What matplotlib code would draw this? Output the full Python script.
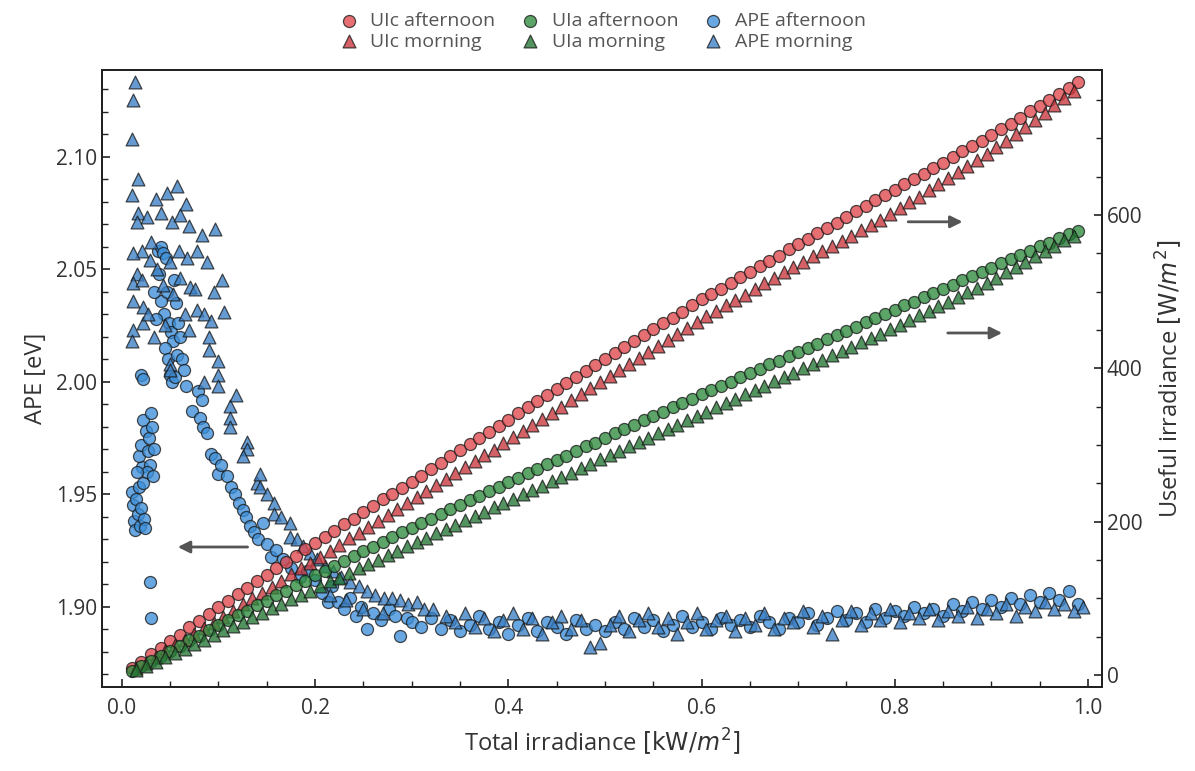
import numpy as np
import matplotlib.pyplot as plt

plt.rcParams['font.family'] = ['Open Sans', 'DejaVu Sans']

# total irradiance [kW/m2] for the useful irradiance curves
x_aft = [0.01, 0.02, 0.03, 0.04, 0.05, 0.06, 0.07, 0.08, 0.09, 0.10,
         0.11, 0.12, 0.13, 0.14, 0.15, 0.16, 0.17, 0.18, 0.19, 0.20,
         0.21, 0.22, 0.23, 0.24, 0.25, 0.26, 0.27, 0.28, 0.29, 0.30,
         0.31, 0.32, 0.33, 0.34, 0.35, 0.36, 0.37, 0.38, 0.39, 0.40,
         0.41, 0.42, 0.43, 0.44, 0.45, 0.46, 0.47, 0.48, 0.49, 0.50,
         0.51, 0.52, 0.53, 0.54, 0.55, 0.56, 0.57, 0.58, 0.59, 0.60,
         0.61, 0.62, 0.63, 0.64, 0.65, 0.66, 0.67, 0.68, 0.69, 0.70,
         0.71, 0.72, 0.73, 0.74, 0.75, 0.76, 0.77, 0.78, 0.79, 0.80,
         0.81, 0.82, 0.83, 0.84, 0.85, 0.86, 0.87, 0.88, 0.89, 0.90,
         0.91, 0.92, 0.93, 0.94, 0.95, 0.96, 0.97, 0.98, 0.99]
x_mor = [0.015, 0.025, 0.035, 0.045, 0.055, 0.065, 0.075, 0.085, 0.095,
         0.105, 0.115, 0.125, 0.135, 0.145, 0.155, 0.165, 0.175, 0.185, 0.195,
         0.205, 0.215, 0.225, 0.235, 0.245, 0.255, 0.265, 0.275, 0.285, 0.295,
         0.305, 0.315, 0.325, 0.335, 0.345, 0.355, 0.365, 0.375, 0.385, 0.395,
         0.405, 0.415, 0.425, 0.435, 0.445, 0.455, 0.465, 0.475, 0.485, 0.495,
         0.505, 0.515, 0.525, 0.535, 0.545, 0.555, 0.565, 0.575, 0.585, 0.595,
         0.605, 0.615, 0.625, 0.635, 0.645, 0.655, 0.665, 0.675, 0.685, 0.695,
         0.705, 0.715, 0.725, 0.735, 0.745, 0.755, 0.765, 0.775, 0.785, 0.795,
         0.805, 0.815, 0.825, 0.835, 0.845, 0.855, 0.865, 0.875, 0.885, 0.895,
         0.905, 0.915, 0.925, 0.935, 0.945, 0.955, 0.965, 0.975, 0.985]

# UIc [W/m2]
uic_aft = [9, 17, 27, 35, 44, 52, 62, 70, 79, 88,
           96, 105, 113, 122, 130, 139, 147, 155, 164, 172,
           180, 188, 197, 204, 212, 220, 229, 236, 244, 252,
           260, 269, 276, 285, 293, 301, 309, 317, 325, 333,
           341, 349, 357, 365, 373, 381, 389, 396, 404, 412,
           420, 428, 435, 443, 451, 459, 466, 474, 482, 490,
           497, 504, 511, 519, 526, 533, 540, 547, 555, 562,
           569, 576, 583, 590, 597, 605, 612, 619, 626, 633,
           640, 647, 654, 661, 668, 676, 683, 690, 697, 704,
           712, 719, 727, 735, 742, 750, 758, 765, 773]
uic_mor = [9, 16, 24, 31, 39, 46, 54, 61, 68,
           76, 84, 92, 100, 107, 115, 123, 131, 139, 146,
           154, 162, 170, 178, 185, 193, 201, 209, 217, 224,
           232, 240, 248, 256, 263, 271, 279, 287, 294, 302,
           310, 318, 326, 334, 342, 350, 358, 366, 374, 382,
           390, 398, 405, 413, 421, 429, 437, 445, 452, 460,
           468, 475, 482, 489, 496, 504, 511, 518, 525, 532,
           539, 546, 553, 559, 566, 573, 580, 587, 594, 601,
           609, 617, 624, 632, 640, 648, 656, 664, 672, 680,
           688, 697, 706, 715, 724, 733, 743, 752, 762]

# UIa [W/m2]
uia_aft = [5, 12, 18, 25, 31, 38, 45, 51, 58, 65,
           71, 78, 84, 91, 97, 104, 110, 117, 123, 130,
           136, 142, 149, 155, 161, 167, 173, 180, 186, 192,
           198, 204, 210, 216, 222, 228, 234, 240, 245, 251,
           257, 263, 269, 275, 280, 286, 292, 298, 303, 309,
           315, 321, 326, 332, 338, 343, 349, 355, 360, 366,
           371, 377, 382, 388, 394, 399, 405, 410, 416, 421,
           427, 432, 438, 443, 449, 454, 460, 465, 471, 476,
           482, 487, 493, 498, 504, 509, 515, 520, 526, 531,
           537, 542, 548, 553, 559, 564, 570, 575, 579]
uia_mor = [6, 11, 17, 23, 28, 34, 40, 46, 52,
           58, 64, 69, 75, 81, 87, 93, 99, 104, 110,
           116, 122, 127, 133, 139, 145, 150, 156, 162, 168,
           173, 179, 185, 190, 196, 202, 207, 213, 219, 224,
           230, 236, 241, 247, 253, 258, 264, 270, 275, 281,
           287, 292, 298, 304, 309, 315, 321, 326, 332, 338,
           343, 349, 355, 360, 366, 372, 377, 383, 389, 394,
           400, 406, 411, 417, 423, 428, 434, 440, 445, 451,
           457, 463, 469, 475, 481, 487, 493, 499, 505, 511,
           518, 525, 532, 539, 546, 553, 560, 567, 573]

# APE afternoon [eV]
ape_aft_x = [0.010, 0.012, 0.013, 0.014, 0.015, 0.017, 0.018, 0.019, 0.020, 0.022,
             0.023, 0.024, 0.021, 0.018, 0.020, 0.022, 0.025, 0.027, 0.028, 0.030,
             0.031, 0.029, 0.026, 0.032, 0.033, 0.029, 0.030, 0.016, 0.020, 0.022,
             0.037, 0.040, 0.043, 0.046, 0.038, 0.041, 0.044, 0.047, 0.049, 0.051,
             0.053, 0.045, 0.048, 0.050, 0.052, 0.055, 0.057, 0.060, 0.058, 0.062,
             0.064, 0.066, 0.035, 0.033, 0.054, 0.056,
             0.073, 0.081, 0.084, 0.088, 0.079, 0.083, 0.092, 0.096, 0.099, 0.103,
             0.109, 0.113, 0.117, 0.121, 0.125, 0.129, 0.133, 0.137, 0.141, 0.146,
             0.150, 0.154, 0.160, 0.167, 0.175, 0.184, 0.192, 0.200, 0.207, 0.213,
             0.218, 0.224, 0.230, 0.236, 0.242, 0.248, 0.254, 0.260, 0.268, 0.276,
             0.288, 0.283, 0.295,
             0.30, 0.31, 0.32, 0.33, 0.34, 0.35, 0.36, 0.37, 0.38, 0.39,
             0.40, 0.41, 0.42, 0.43, 0.44, 0.45, 0.46, 0.47, 0.48, 0.49,
             0.50, 0.51, 0.52, 0.53, 0.54, 0.55, 0.56, 0.57, 0.58, 0.59,
             0.60, 0.61, 0.62, 0.63, 0.64, 0.65, 0.66, 0.67, 0.68, 0.69,
             0.70, 0.71, 0.72, 0.73, 0.74, 0.75, 0.76, 0.77, 0.78, 0.79,
             0.80, 0.81, 0.82, 0.83, 0.84, 0.85, 0.86, 0.87, 0.88, 0.89,
             0.90, 0.91, 0.92, 0.93, 0.94, 0.95, 0.96, 0.97, 0.98, 0.99]
ape_aft = [1.951, 1.945, 1.938, 1.934, 1.948, 1.941, 1.953, 1.936, 1.944, 1.955,
           1.939, 1.935, 1.962, 1.967, 1.972, 1.983, 1.978, 1.969, 1.975, 1.986,
           1.980, 1.963, 1.960, 1.958, 1.970, 1.911, 1.895, 1.960, 2.003, 2.001,
           2.058, 2.060, 2.057, 2.055, 2.048, 2.036, 2.030, 2.040, 2.026, 2.022,
           2.018, 2.015, 2.010, 2.003, 2.000, 2.002, 2.012, 2.020, 2.026, 2.010,
           2.005, 1.998, 2.028, 2.040, 2.045, 2.035,
           1.987, 1.984, 1.980, 1.977, 1.996, 1.992, 1.968, 1.966, 1.959, 1.963,
           1.958, 1.953, 1.950, 1.946, 1.943, 1.940, 1.936, 1.933, 1.930, 1.937,
           1.928, 1.922, 1.925, 1.921, 1.917, 1.913, 1.916, 1.912, 1.906, 1.902,
           1.909, 1.902, 1.899, 1.904, 1.896, 1.900, 1.890, 1.897, 1.894, 1.899,
           1.887, 1.896, 1.895,
           1.893, 1.891, 1.895, 1.890, 1.894, 1.889, 1.892, 1.896, 1.890, 1.893,
           1.888, 1.892, 1.895, 1.889, 1.893, 1.891, 1.888, 1.894, 1.890, 1.892,
           1.889, 1.893, 1.890, 1.895, 1.891, 1.894, 1.889, 1.892, 1.896, 1.891,
           1.893, 1.890, 1.895, 1.892, 1.894, 1.891, 1.896, 1.893, 1.890, 1.895,
           1.893, 1.897, 1.892, 1.895, 1.898, 1.894, 1.897, 1.893, 1.899, 1.895,
           1.898, 1.896, 1.900, 1.897, 1.899, 1.896, 1.901, 1.898, 1.902, 1.899,
           1.903, 1.900, 1.904, 1.901, 1.905, 1.902, 1.906, 1.903, 1.907, 1.901]

# APE morning [eV]
ape_mor_x = [0.014, 0.012, 0.011,
             0.017, 0.010, 0.035, 0.047, 0.057, 0.066, 0.017, 0.026, 0.040, 0.052,
             0.060, 0.069, 0.016, 0.021, 0.012, 0.059, 0.067, 0.078, 0.050, 0.029,
             0.016, 0.060, 0.071, 0.076, 0.012, 0.021, 0.053, 0.012, 0.012, 0.022,
             0.022, 0.078, 0.085, 0.092, 0.090, 0.090, 0.100, 0.100, 0.100, 0.010,
             0.050, 0.050, 0.112, 0.112, 0.112, 0.130, 0.130, 0.125, 0.140,
             0.096, 0.088, 0.104, 0.095, 0.083, 0.030, 0.036, 0.043, 0.065, 0.070,
             0.033, 0.045, 0.027, 0.106, 0.118, 0.085,
             0.143, 0.143, 0.150, 0.157, 0.157, 0.165, 0.174, 0.174, 0.181, 0.188,
             0.195, 0.202, 0.210, 0.219, 0.227, 0.236, 0.245, 0.254, 0.262, 0.271,
             0.280, 0.288, 0.296, 0.305, 0.313, 0.322, 0.215, 0.232, 0.250, 0.270,
             0.335, 0.345, 0.355, 0.365, 0.375, 0.385, 0.395, 0.405, 0.415, 0.425,
             0.435, 0.445, 0.455, 0.465, 0.475, 0.485, 0.495, 0.505, 0.515, 0.525,
             0.535, 0.545, 0.555, 0.565, 0.575, 0.585, 0.595, 0.605, 0.615, 0.625,
             0.635, 0.645, 0.655, 0.665, 0.675, 0.685, 0.695, 0.705, 0.715, 0.725,
             0.735, 0.745, 0.755, 0.765, 0.775, 0.785, 0.795, 0.805, 0.815, 0.825,
             0.835, 0.845, 0.855, 0.865, 0.875, 0.885, 0.895, 0.905, 0.915, 0.925,
             0.935, 0.945, 0.955, 0.965, 0.975, 0.985, 0.995]
ape_mor = [2.133, 2.125, 2.108,
           2.090, 2.083, 2.081, 2.084, 2.087, 2.079, 2.075, 2.073, 2.075, 2.071,
           2.074, 2.069, 2.071, 2.058, 2.057, 2.058, 2.055, 2.058, 2.053, 2.054,
           2.048, 2.046, 2.042, 2.041, 2.044, 2.045, 2.039, 2.036, 2.023, 2.033,
           2.026, 2.032, 2.030, 2.027, 2.020, 2.014, 2.009, 2.003, 1.998, 2.018,
           2.008, 2.005, 1.989, 1.984, 1.980, 1.973, 1.970, 1.967, 1.955,
           2.068, 2.053, 2.045, 2.040, 2.065, 2.062, 2.050, 2.043, 2.030, 2.023,
           2.020, 2.025, 2.030, 2.031, 1.994, 2.000,
           1.959, 1.953, 1.950, 1.946, 1.941, 1.940, 1.937, 1.931, 1.930, 1.927,
           1.924, 1.921, 1.918, 1.916, 1.913, 1.911, 1.909, 1.907, 1.905, 1.904,
           1.904, 1.903, 1.901, 1.902, 1.899, 1.899, 1.905, 1.903, 1.899, 1.897,
           1.896, 1.893, 1.897, 1.891, 1.895, 1.889, 1.894, 1.897, 1.890, 1.895,
           1.888, 1.893, 1.896, 1.890, 1.894, 1.882, 1.884, 1.892, 1.896, 1.889,
           1.894, 1.897, 1.891, 1.895, 1.888, 1.893, 1.897, 1.890, 1.894, 1.896,
           1.889, 1.895, 1.892, 1.897, 1.890, 1.895, 1.893, 1.898, 1.891, 1.896,
           1.888, 1.894, 1.898, 1.892, 1.897, 1.894, 1.899, 1.893, 1.897, 1.895,
           1.899, 1.894, 1.898, 1.896, 1.900, 1.895, 1.899, 1.897, 1.901, 1.896,
           1.900, 1.898, 1.902, 1.899, 1.901, 1.898, 1.900]

RED = '#e0474c'
RED_M = '#c9353b'
GREEN = '#2e8b3e'
GREEN_M = '#237532'
BLUE = '#3d8fd9'
BLUE_M = '#3a7fc4'
TXT = '#333333'

fig = plt.figure(figsize=(11.95, 7.71), dpi=100)
ax = fig.add_axes([0.0854, 0.109, 0.8368, 0.8002])
ax2 = ax.twinx()

kw = dict(edgecolors='#1a1a1a', linewidths=0.9, alpha=0.78)
ax.scatter(ape_aft_x, ape_aft, s=75, marker='o', color=BLUE, label='APE afternoon', **kw)
ax.scatter(ape_mor_x, ape_mor, s=85, marker='^', color=BLUE_M, label='APE morning', **kw)

ax2.scatter(x_aft, uic_aft, s=75, marker='o', color=RED, label='UIc afternoon', **kw)
ax2.scatter(x_mor, uic_mor, s=85, marker='^', color=RED_M, label='UIc morning', **kw)
ax2.scatter(x_aft, uia_aft, s=75, marker='o', color=GREEN, label='UIa afternoon', **kw)
ax2.scatter(x_mor, uia_mor, s=85, marker='^', color=GREEN_M, label='UIa morning', **kw)

ax.set_xlim(-0.0205, 1.0145)
ax.set_ylim(1.8643, 2.1385)
ax2.set_ylim(-15.7, 789)

ax.set_xticks([0.0, 0.2, 0.4, 0.6, 0.8, 1.0])
ax.set_xticks(np.arange(0, 1.01, 0.05), minor=True)
ax.set_yticks([1.90, 1.95, 2.00, 2.05, 2.10])
ax.set_yticks(np.arange(1.87, 2.135, 0.01), minor=True)
ax2.set_yticks([0, 200, 400, 600])
ax2.set_yticks(np.arange(0, 790, 50), minor=True)
ax.xaxis.set_major_formatter(plt.FormatStrFormatter('%.1f'))
ax.yaxis.set_major_formatter(plt.FormatStrFormatter('%.2f'))

for a in (ax, ax2):
    a.tick_params(which='both', direction='in', colors='#222222', labelcolor=TXT, labelsize=15)
    a.tick_params(which='major', length=6, width=1.2)
    a.tick_params(which='minor', length=4, width=1.0)
    for sp in a.spines.values():
        sp.set_linewidth(1.4)
        sp.set_color('#222222')
ax.tick_params(axis='x', pad=8)

ax.set_xlabel(r'Total irradiance $[\mathrm{kW}/m^2]$', fontsize=17, color=TXT, labelpad=6)
ax.set_ylabel('APE [eV]', fontsize=17, color=TXT, labelpad=6)
ax2.set_ylabel(r'Useful irradiance $[\mathrm{W}/m^2]$', fontsize=17, color=TXT, labelpad=8)

arrow = dict(arrowstyle='-|>', color='#555555', lw=2.0, mutation_scale=18)
ax.annotate('', xy=(0.055, 1.9265), xytext=(0.133, 1.9265), arrowprops=arrow)
ax2.annotate('', xy=(0.873, 591), xytext=(0.811, 591), arrowprops=arrow)
ax2.annotate('', xy=(0.914, 446), xytext=(0.852, 446), arrowprops=arrow)

h1, l1 = ax2.get_legend_handles_labels()
h2, l2 = ax.get_legend_handles_labels()
fig.legend(h1 + h2, l1 + l2, loc='upper center', bbox_to_anchor=(0.5, 1.0), ncol=3,
           frameon=False, fontsize=14, labelcolor='#555555', handletextpad=0.1,
           columnspacing=0.8, labelspacing=0.15, borderaxespad=0.2)

fig.savefig('out.png', dpi=100)
